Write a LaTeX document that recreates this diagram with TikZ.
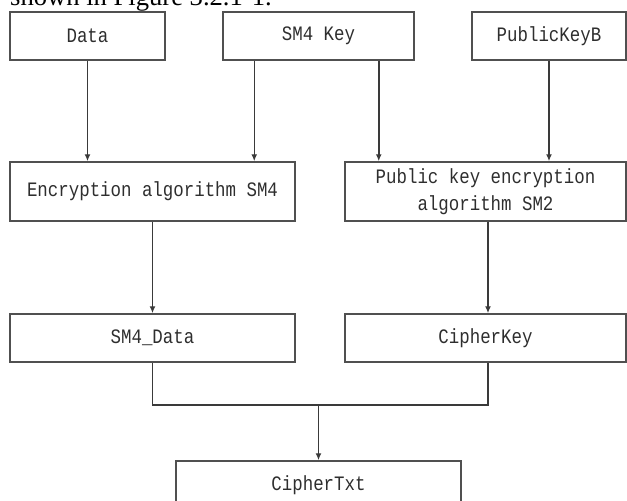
\documentclass[tikz,border=0pt]{standalone}
\usepackage{fontspec}
\setmainfont{Liberation Serif}
\newfontfamily\boxfont[FakeStretch=0.85]{Liberation Mono}
\usetikzlibrary{arrows.meta}
\definecolor{line}{HTML}{3A3A3A}
\definecolor{frame}{HTML}{505050}
\definecolor{label}{HTML}{2E2E2E}

\begin{document}
\begin{tikzpicture}[x=1pt, y=-1pt,
		box/.style={draw=frame, line width=1.5pt, inner sep=0pt, minimum height=48pt, text=label, align=center, font=\boxfont\fontsize{20.5}{27}\selectfont},
		arr/.style={-{Latex[length=7pt,width=6pt]}, line width=1.5pt, line},
		link/.style={line width=1.5pt, line}]
			\useasboundingbox (0,0) rectangle (627,501);
			\clip (0,0) rectangle (627,501);

			\node[anchor=base west, inner sep=0pt, font=\fontsize{26.6}{30}\selectfont] (caption) at (10,5.5) {shown in Figure 3.2.1-1.};

			\node[box, minimum width=155pt] (data) at (87.5,36) {Data};
			\node[box, minimum width=191pt] (sm4key) at (318.5,36) {SM4 Key};
			\node[box, minimum width=154pt] (pubkeyb) at (549,36) {PublicKeyB};

			\node[box, minimum width=285pt, minimum height=59pt] (enc) at (152.5,191.5) {Encryption algorithm SM4};
			\node[box, minimum width=281pt, minimum height=59pt] (pubenc) at (485.5,191.5) {Public key encryption\\algorithm SM2};

			\node[box, minimum width=285pt] (sm4data) at (152.5,338) {SM4\_Data};
			\node[box, minimum width=281pt] (cipherkey) at (485.5,338) {CipherKey};

			\node[box, minimum width=285pt] (ciphertxt) at (318.5,485) {CipherTxt};

			\coordinate (merge) at (318.5,405);

			\draw[arr] (data.south) -- (data.south |- enc.north);
			\draw[arr] ([xshift=32]sm4key.south west) -- ([xshift=32]sm4key.south west |- enc.north);
			\draw[arr] ([xshift=-36]sm4key.south east) -- ([xshift=-36]sm4key.south east |- pubenc.north);
			\draw[arr] (pubkeyb.south) -- (pubkeyb.south |- pubenc.north);

			\draw[arr] (enc.south) -- (sm4data.north);
			\draw[arr] ([xshift=2.5]pubenc.south) -- ([xshift=2.5]cipherkey.north);

			\draw[link] (sm4data.south) |- (merge) -| ([xshift=2.5]cipherkey.south);
			\draw[arr] (merge) -- (ciphertxt.north);
		\end{tikzpicture}
\end{document}
